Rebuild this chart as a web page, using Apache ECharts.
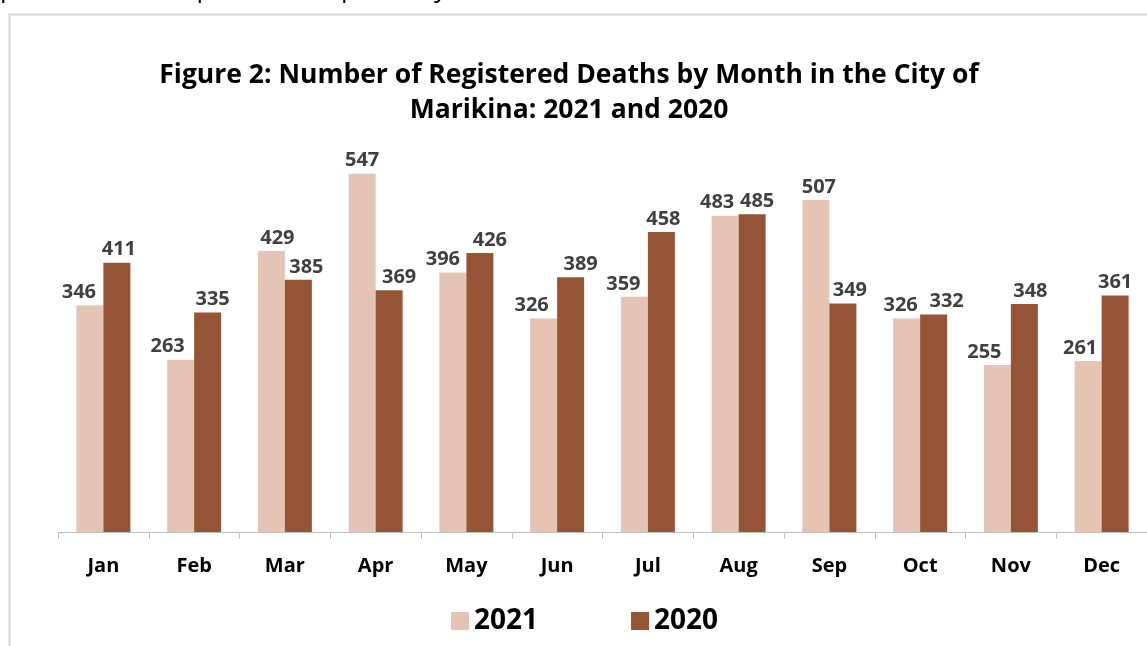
<!DOCTYPE html>
<html>
<head>
<meta charset="utf-8">
<script src="https://cdn.jsdelivr.net/npm/echarts@6/dist/echarts.min.js"></script>
<style>
  html, body { margin: 0; padding: 0; background: #fff; }
  #main { width: 1147px; height: 646px; }
</style>
</head>
<body>
<div id="main"></div>
<script>
var months = ["Jan", "Feb", "Mar", "Apr", "May", "Jun", "Jul", "Aug", "Sep", "Oct", "Nov", "Dec"];
var deaths2021 = [346, 263, 429, 547, 396, 326, 359, 483, 507, 326, 255, 261];
var deaths2020 = [411, 335, 385, 369, 426, 389, 458, 485, 349, 332, 348, 361];
// labels were nudged sideways by hand in the original
var nudge2021 = [-11, -13, 6, 0, -10, -12, -11, -8, 3, -6, -13, -8];
var nudge2020 = [2, 5, 8, 10, 10, 10, 2, 5, 7, 13, 6, 0];

var FONT = "'Open Sans', sans-serif";
var myChart = echarts.init(document.getElementById("main"));

function withNudge(values, nudges) {
  return values.map(function (v, i) {
    return { value: v, label: { offset: [nudges[i], 0] } };
  });
}

var barLabel = {
  show: true,
  position: "top",
  distance: 3,
  color: "#404040",
  fontFamily: FONT,
  fontWeight: "bold",
  fontSize: 20
};

myChart.setOption({
  animation: false,
  title: {
    text: "Figure 2: Number of Registered Deaths by Month in the City of\nMarikina: 2021 and 2020",
    left: 564,
    textAlign: "center",
    top: 53,
    textStyle: {
      fontFamily: FONT,
      fontWeight: "bold",
      fontSize: 26.5,
      lineHeight: 35,
      color: "#000"
    }
  },
  graphic: [
    {
      type: "rect",
      shape: { x: 9.5, y: 14.5, width: 1160, height: 660 },
      style: { fill: "none", stroke: "#d9d9d9", lineWidth: 2 },
      silent: true
    },
    {
      type: "text",
      left: 0,
      top: -23,
      style: {
        text: "percent and 0.5 percent, respectively",
        fontFamily: FONT,
        fontSize: 26,
        fill: "#000"
      }
    }
  ],
  legend: {
    bottom: 6,
    left: 446,
    itemGap: 93,
    itemWidth: 18,
    itemHeight: 18,
    icon: "rect",
    textStyle: {
      fontFamily: FONT,
      fontWeight: "bold",
      fontSize: 28,
      color: "#000"
    }
  },
  grid: {
    left: 58,
    right: -5,
    top: 139,
    bottom: 114,
    containLabel: false
  },
  xAxis: {
    type: "category",
    data: months,
    axisLine: { lineStyle: { color: "#bfbfbf", width: 1 } },
    axisTick: { show: true, length: 7, lineStyle: { color: "#bfbfbf" } },
    axisLabel: {
      margin: 24,
      color: "#000",
      fontFamily: FONT,
      fontWeight: "bold",
      fontSize: 20
    }
  },
  yAxis: {
    type: "value",
    min: 0,
    max: 600,
    show: false,
    splitLine: { show: false }
  },
  series: [
    {
      name: "2021",
      type: "bar",
      data: withNudge(deaths2021, nudge2021),
      barWidth: 27,
      barGap: "0%",
      itemStyle: { color: "#e5c4b4" },
      label: barLabel
    },
    {
      name: "2020",
      type: "bar",
      data: withNudge(deaths2020, nudge2020),
      barWidth: 27,
      barGap: "0%",
      itemStyle: { color: "#955436" },
      label: barLabel
    }
  ]
});
</script>
</body>
</html>
